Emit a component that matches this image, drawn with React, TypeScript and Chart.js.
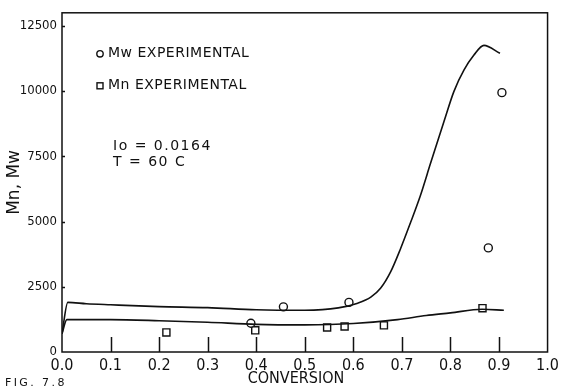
import React, { useEffect, useRef } from 'react';
import { Chart, registerables } from 'chart.js';

Chart.register(...registerables);

// ---- data ----
const xTicks = [0, 0.1, 0.2, 0.3, 0.4, 0.5, 0.6, 0.7, 0.8, 0.9, 1.0];
const yTicks = [0, 2500, 5000, 7500, 10000, 12500];

const mwModelX = [0, 0.012, 0.05, 0.1, 0.2, 0.3, 0.4, 0.5, 0.569, 0.609, 0.636, 0.656, 0.677, 0.697, 0.718, 0.738, 0.759, 0.787, 0.807, 0.828, 0.848, 0.869, 0.902];
const mwModelY = [700, 1900, 1850, 1810, 1740, 1700, 1620, 1600, 1690, 1870, 2100, 2440, 3080, 3950, 4970, 5990, 7230, 8850, 9980, 10810, 11370, 11750, 11450];

const mnModelX = [0, 0.01, 0.1, 0.2, 0.3, 0.4, 0.5, 0.6, 0.691, 0.75, 0.8, 0.865, 0.91];
const mnModelY = [700, 1240, 1240, 1200, 1140, 1060, 1040, 1090, 1240, 1400, 1500, 1640, 1600];

const mwExpX = [0.389, 0.456, 0.591, 0.878, 0.906];
const mwExpY = [1100, 1730, 1900, 3990, 9940];

const mnExpX = [0.215, 0.398, 0.546, 0.582, 0.663, 0.866];
const mnExpY = [750, 830, 940, 980, 1020, 1680];

const legendLabels = ['Mw EXPERIMENTAL', 'Mn EXPERIMENTAL'];
const noteLines = ['Io = 0.0164', 'T = 60 C'];
const figLabel = 'FIG. 7.8';
const xTitle = 'CONVERSION';
const yTitle = 'Mn, Mw';

const FONT_C = "'DejaVu Sans Condensed', 'Liberation Sans Narrow', sans-serif";
const FONT_N = "'DejaVu Sans', 'Liberation Sans', sans-serif";
const INK = '#111';

const pts = (xs: number[], ys: number[]) => xs.map((x, i) => ({ x, y: ys[i] }));

export default function App() {
  const ref = useRef<HTMLCanvasElement>(null);

  useEffect(() => {
    if (!ref.current) return;

    const framePlugin = {
      id: 'framePlugin',
      afterDatasetsDraw(chart: any) {
        const { ctx, chartArea } = chart;
        const { left, right, top, bottom } = chartArea;
        const xs = chart.scales.x;
        const ys = chart.scales.y;
        ctx.save();
        ctx.strokeStyle = INK;
        ctx.lineWidth = 1.5;
        ctx.strokeRect(left, top, right - left, bottom - top);
        // inward x ticks
        ctx.beginPath();
        xTicks.forEach((v) => {
          if (v <= 0 || v >= 1) return;
          const px = Math.round(xs.getPixelForValue(v)) + 0.5;
          ctx.moveTo(px, bottom);
          ctx.lineTo(px, bottom - 15);
        });
        // small inward y ticks
        yTicks.forEach((v) => {
          if (v <= 0) return;
          const py = Math.round(ys.getPixelForValue(v)) + 0.5;
          ctx.moveTo(left, py);
          ctx.lineTo(left + 3, py);
        });
        ctx.stroke();

        ctx.fillStyle = INK;
        ctx.textBaseline = 'middle';
        ctx.textAlign = 'left';

        // legend
        ctx.lineWidth = 1.4;
        const lx = left + 38;
        const ly1 = top + 41;
        const ly2 = top + 73;
        ctx.beginPath();
        ctx.arc(lx, ly1, 3.2, 0, Math.PI * 2);
        ctx.stroke();
        ctx.strokeRect(lx - 3, ly2 - 3, 6, 6);
        ctx.font = `14px ${FONT_N}`;
        (ctx as any).letterSpacing = '0.5px';
        ctx.fillText(legendLabels[0], lx + 8, ly1);
        ctx.fillText(legendLabels[1], lx + 8, ly2);

        // notes
        ctx.font = `14px ${FONT_N}`;
        (ctx as any).letterSpacing = '1.5px';
        ctx.fillText(noteLines[0], left + 51, top + 134);
        ctx.fillText(noteLines[1], left + 51, top + 150);

        // x axis title
        ctx.font = `16px ${FONT_C}`;
        (ctx as any).letterSpacing = '0px';
        ctx.textAlign = 'center';
        ctx.fillText(xTitle, 296, 379);

        // figure label
        ctx.font = `11px ${FONT_N}`;
        (ctx as any).letterSpacing = '2.4px';
        ctx.textAlign = 'left';
        ctx.fillText(figLabel, 5, 383);
        ctx.restore();
      },
    };

    const chart = new Chart(ref.current, {
      type: 'scatter',
      data: {
        datasets: [
          {
            type: 'line',
            data: pts(mwModelX, mwModelY),
            borderColor: INK,
            borderWidth: 1.6,
            pointRadius: 0,
            cubicInterpolationMode: 'monotone',
            fill: false,
          } as any,
          {
            type: 'line',
            data: pts(mnModelX, mnModelY),
            borderColor: INK,
            borderWidth: 1.6,
            pointRadius: 0,
            cubicInterpolationMode: 'monotone',
            fill: false,
          } as any,
          {
            data: pts(mwExpX, mwExpY),
            pointStyle: 'circle',
            pointRadius: 4,
            borderColor: INK,
            borderWidth: 1.4,
            backgroundColor: '#fff',
          },
          {
            data: pts(mnExpX, mnExpY),
            pointStyle: 'rect',
            pointRadius: 5,
            borderColor: INK,
            borderWidth: 1.4,
            backgroundColor: '#fff',
          },
        ],
      },
      options: {
        responsive: false,
        animation: false,
        events: [],
        layout: { padding: { left: 0, right: 12, top: 7, bottom: 0 } },
        plugins: { legend: { display: false }, tooltip: { enabled: false } },
        scales: {
          x: {
            type: 'linear',
            min: 0,
            max: 1,
            afterBuildTicks: (s: any) => {
              s.ticks = xTicks.map((value) => ({ value }));
            },
            afterFit: (s: any) => {
              s.height = 35;
            },
            grid: { display: false, drawTicks: false },
            border: { display: false },
            ticks: {
              color: INK,
              font: { family: FONT_C, size: 16 },
              padding: 4,
              maxRotation: 0,
              autoSkip: false,
              callback: (v: any) => Number(v).toFixed(1),
            },
            title: { display: false, text: xTitle },
          },
          y: {
            type: 'linear',
            min: 0,
            max: 13000,
            afterBuildTicks: (s: any) => {
              s.ticks = yTicks.map((value) => ({ value }));
            },
            afterFit: (s: any) => {
              s.width = 62;
            },
            grid: { display: false, drawTicks: false },
            border: { display: false },
            ticks: {
              color: INK,
              font: { family: FONT_C, size: 13 },
              padding: 5,
              autoSkip: false,
              callback: (v: any) => String(v),
            },
            title: {
              display: true,
              text: yTitle,
              color: INK,
              font: { family: FONT_N, size: 17, lineHeight: 1 },
              padding: { top: 6, bottom: 0 },
            },
          },
        },
      },
      plugins: [framePlugin],
    } as any);

    return () => chart.destroy();
  }, []);

  return (
    <div style={{ position: 'fixed', left: 0, top: 0, width: 563, height: 387, background: '#fff' }}>
      <canvas ref={ref} width={563} height={387} style={{ display: 'block' }} />
    </div>
  );
}
